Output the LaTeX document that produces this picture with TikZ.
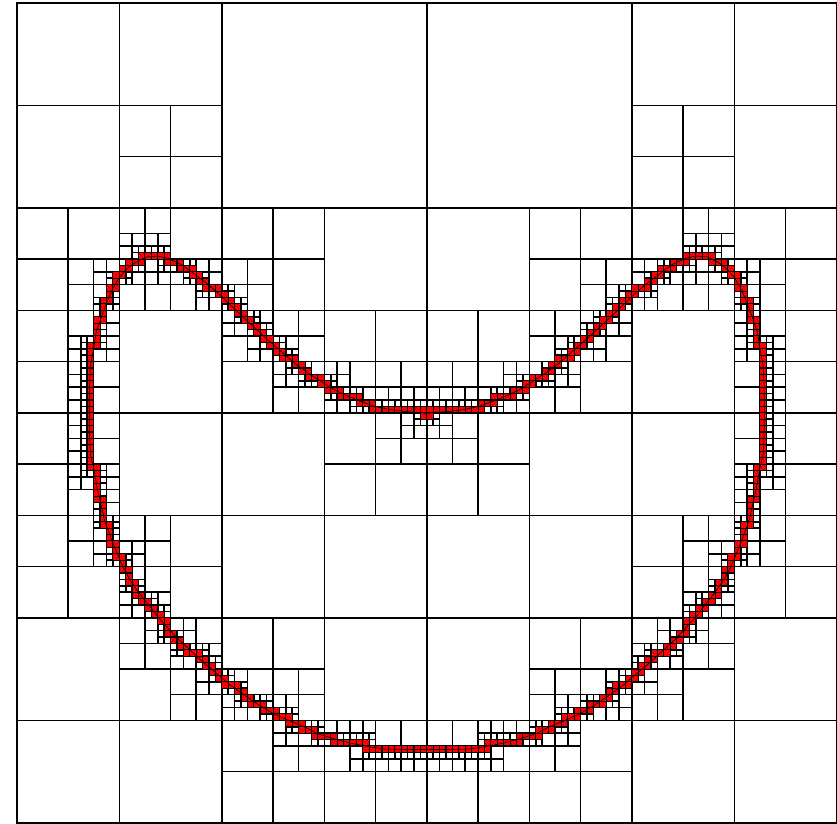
\documentclass[tikz,border=0pt]{standalone}
\makeatletter
\newcount\qX \newcount\qY \newcount\qpX \newcount\qpY
\newcount\qxa \newcount\qxb \newcount\qya \newcount\qyb
\newcount\qmin \newcount\qmax \newcount\qdx \newcount\qdy
\newcount\qpos \newcount\qneg \newcount\qc \newcount\qh
\newif\ifqhit \newif\ifqrefine \newif\ifqfirst
\def\qmaxlevel{7}
% forced refinements (cells not crossed by the curve)
\expandafter\def\csname qforce@2@0@0\endcsname{}
\expandafter\def\csname qforce@2@3@0\endcsname{}
\expandafter\def\csname qforce@3@1@1\endcsname{}
\expandafter\def\csname qforce@3@6@1\endcsname{}
% vertices of the left half, in tenths of a pixel
\qfirsttrue
\def\qsegs{}\def\qcurveL{}\def\qcurveR{}
\def\qv#1#2{%
  \qX=\numexpr((#1)-168)*8192/8200\relax
  \qY=\numexpr((#2)-28)*8192/8200\relax
  \edef\qcL{(\strip@pt\dimexpr#1pt/10\relax,\strip@pt\dimexpr#2pt/10\relax)}%
  \edef\qcR{(\strip@pt\dimexpr8536pt/10-#1pt/10\relax,\strip@pt\dimexpr#2pt/10\relax)}%
  \ifqfirst
    \qfirstfalse
    \let\qcurveL\qcL \let\qcurveR\qcR
  \else
    \edef\qsegs{\unexpanded\expandafter{\qsegs}\noexpand\qdo{\the\qpX}{\the\qpY}{\the\qX}{\the\qY}\noexpand\qdo{\the\numexpr8192-\qpX\relax}{\the\qpY}{\the\numexpr8192-\qX\relax}{\the\qY}}%
    \edef\qcurveL{\unexpanded\expandafter{\qcurveL} -- \qcL}%
    \edef\qcurveR{\unexpanded\expandafter{\qcurveR} -- \qcR}%
  \fi
  \qpX=\qX \qpY=\qY}
\qv{4268}{4138}\qv{4210}{4126}\qv{4050}{4115}\qv{3900}{4095}\qv{3750}{4065}
\qv{3600}{4010}\qv{3450}{3950}\qv{3330}{3890}\qv{3220}{3820}\qv{3080}{3730}
\qv{2950}{3635}\qv{2820}{3520}\qv{2680}{3400}\qv{2550}{3280}\qv{2420}{3160}
\qv{2300}{3045}\qv{2180}{2930}\qv{2050}{2820}\qv{1930}{2730}\qv{1820}{2650}
\qv{1700}{2590}\qv{1580}{2560}\qv{1460}{2570}\qv{1360}{2620}\qv{1270}{2685}
\qv{1190}{2780}\qv{1120}{2900}\qv{1060}{3040}\qv{1010}{3180}\qv{960}{3330}
\qv{935}{3500}\qv{905}{3650}\qv{895}{3850}\qv{892}{4100}\qv{895}{4350}
\qv{905}{4550}\qv{935}{4670}\qv{970}{4870}\qv{1005}{5030}\qv{1050}{5220}
\qv{1110}{5380}\qv{1170}{5530}\qv{1230}{5670}\qv{1300}{5800}\qv{1390}{5930}
\qv{1480}{6040}\qv{1580}{6170}\qv{1680}{6280}\qv{1780}{6390}\qv{1900}{6500}
\qv{2020}{6610}\qv{2150}{6720}\qv{2290}{6840}\qv{2440}{6950}\qv{2590}{7050}
\qv{2740}{7140}\qv{2900}{7210}\qv{3050}{7270}\qv{3170}{7335}\qv{3350}{7390}
\qv{3500}{7430}\qv{3660}{7463}\qv{3850}{7490}\qv{4050}{7495}\qv{4268}{7495}
% segment / box test
\def\qcorner#1#2#3#4{%
  \qc=\numexpr\qdx*(#4-#2)-\qdy*(#3-#1)\relax
  \ifnum\qc>0 \advance\qpos by 1 \fi
  \ifnum\qc<0 \advance\qneg by 1 \fi}
\def\qtest#1#2#3#4{%
  \qhitfalse
  \ifnum#1<#3 \qmin=#1 \qmax=#3 \else \qmin=#3 \qmax=#1 \fi
  \ifnum\qmin>\qxb\else\ifnum\qmax<\qxa\else
    \ifnum#2<#4 \qmin=#2 \qmax=#4 \else \qmin=#4 \qmax=#2 \fi
    \ifnum\qmin>\qyb\else\ifnum\qmax<\qya\else
      \qdx=\numexpr#3-#1\relax \qdy=\numexpr#4-#2\relax
      \qpos=0 \qneg=0
      \qcorner{#1}{#2}{\qxa}{\qya}\qcorner{#1}{#2}{\qxb}{\qya}%
      \qcorner{#1}{#2}{\qxa}{\qyb}\qcorner{#1}{#2}{\qxb}{\qyb}%
      \ifnum\qpos<4 \ifnum\qneg<4 \qhittrue\fi\fi
    \fi\fi
  \fi\fi}
\def\qfilter#1#2{%
  \def#1{}%
  \def\qdo##1##2##3##4{\qtest{##1}{##2}{##3}{##4}%
    \ifqhit\expandafter\def\expandafter#1\expandafter{#1\qdo{##1}{##2}{##3}{##4}}\fi}%
  #2}
\def\qsetbox#1#2{%
  \qxa=\numexpr(#1)*\qh\relax \qxb=\numexpr\qxa+\qh\relax
  \qya=\numexpr(#2)*\qh\relax \qyb=\numexpr\qya+\qh\relax}
\def\qpx#1{\strip@pt\dimexpr16.8pt+820pt*#1/8192\relax}
\def\qpy#1{\strip@pt\dimexpr2.8pt+820pt*#1/8192\relax}
\def\qcoords#1#2#3{%
  \qX=\numexpr#1*#3\relax \qY=\numexpr#2*#3\relax
  \edef\qxo{\qpx\qX}\edef\qyo{\qpy\qY}%
  \qX=\numexpr#1*#3+#3/2\relax \qY=\numexpr#2*#3+#3/2\relax
  \edef\qxm{\qpx\qX}\edef\qym{\qpy\qY}%
  \qX=\numexpr#1*#3+#3\relax \qY=\numexpr#2*#3+#3\relax
  \edef\qxi{\qpx\qX}\edef\qyi{\qpy\qY}}
\def\qred#1#2#3{\qcoords{#1}{#2}{#3}%
  \filldraw[qredcell] (\qxo,\qyo) rectangle (\qxi,\qyi);}
\def\qcross#1#2#3{\qcoords{#1}{#2}{#3}%
  \draw[qgrid] (\qxo,\qym) -- (\qxi,\qym) (\qxm,\qyo) -- (\qxm,\qyi);}
\def\qcell#1#2#3#4#5{%
  \begingroup
  \let\qsegs#5%
  \ifx\qsegs\@empty\qrefinefalse\else\qrefinetrue\fi
  \ifcsname qforce@#1@#2@#3\endcsname\qrefinetrue\fi
  \ifqrefine
    \ifnum#1=\qmaxlevel\relax
      \qred{#2}{#3}{#4}%
    \else
      \qcross{#2}{#3}{#4}%
      \edef\qhh{\the\numexpr#4/2\relax}%
      \qh=\qhh\relax
      \qsetbox{2*#2}{2*#3}\qfilter\qlA\qsegs
      \qsetbox{2*#2+1}{2*#3}\qfilter\qlB\qsegs
      \qsetbox{2*#2}{2*#3+1}\qfilter\qlC\qsegs
      \qsetbox{2*#2+1}{2*#3+1}\qfilter\qlD\qsegs
      \edef\qnext{%
        \noexpand\qcell{\the\numexpr#1+1}{\the\numexpr2*#2}{\the\numexpr2*#3}{\qhh}\noexpand\qlA
        \noexpand\qcell{\the\numexpr#1+1}{\the\numexpr2*#2+1}{\the\numexpr2*#3}{\qhh}\noexpand\qlB
        \noexpand\qcell{\the\numexpr#1+1}{\the\numexpr2*#2}{\the\numexpr2*#3+1}{\qhh}\noexpand\qlC
        \noexpand\qcell{\the\numexpr#1+1}{\the\numexpr2*#2+1}{\the\numexpr2*#3+1}{\qhh}\noexpand\qlD}%
      \qnext
    \fi
  \fi
  \endgroup}
\makeatother
\tikzset{
  qgrid/.style={draw=black, line width=1.6pt},
  qredcell/.style={fill=red, draw=black, line width=1.1pt},
  qcurve/.style={draw=black, line width=0.6pt, line join=round}
}
\begin{document}
\begin{tikzpicture}[x=1pt,y=-1pt]
\useasboundingbox (0,0) rectangle (837,823);
\fill[white] (0,0) rectangle (837,823);
\qcell{0}{0}{0}{8192}\qsegs
\draw[qgrid] (16.8,2.8) rectangle (836.8,822.8);
\edef\qtmp{\noexpand\draw[qcurve] \qcurveL;}\qtmp
\edef\qtmp{\noexpand\draw[qcurve] \qcurveR;}\qtmp
\end{tikzpicture}
\end{document}
